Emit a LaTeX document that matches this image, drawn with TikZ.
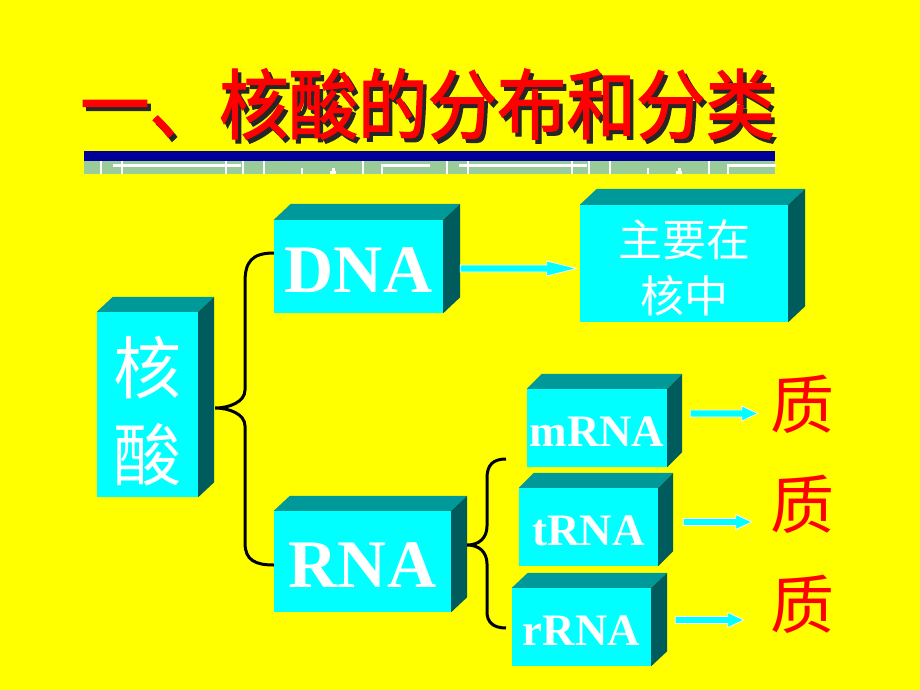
\documentclass[tikz,border=0pt]{standalone}
\usepackage{fontspec}
\usepackage{graphicx}
\setmainfont{Liberation Serif}
\newfontfamily\cjk{Noto Sans CJK SC}
\newfontfamily\cjkt{Noto Sans CJK SC}[FakeBold=1.6]
\usetikzlibrary{calc}
\definecolor{bg}{HTML}{FFFF00}
\definecolor{face}{HTML}{00FFFF}
\definecolor{topf}{HTML}{009999}
\definecolor{sidef}{HTML}{005C5C}
\definecolor{barblue}{HTML}{000099}
\definecolor{strip}{HTML}{99CC99}
\tikzset{
  block/.style={fill=face, inner sep=0pt},
  ltxt/.style={font=\bfseries\fontsize{68}{68}\selectfont, text=white, inner sep=0pt, yshift=-4pt},
  stxt/.style={font=\bfseries\fontsize{45}{45}\selectfont, text=white, inner sep=0pt, yshift=-3.5pt},
  ctxt/.style={font=\cjk\fontsize{68}{87}\selectfont, text=white, inner sep=0pt, align=center, yshift=-7pt},
  mtxt/.style={font=\cjk\fontsize{44}{56}\selectfont, text=white, inner sep=0pt, align=center, yshift=-4.5pt},
  zhi/.style={font=\cjk\fontsize{64}{64}\selectfont, text=red, inner sep=0pt},
  titletxt/.style={font=\cjkt\fontsize{69.5}{70}\selectfont, inner sep=0pt},
  fatarr/.style={fill=face, draw=white, line width=0.8pt},
  brace/.style={draw=black, line width=3pt}
}
\newcommand\fatarrow[3]{%
  \path[fatarr] let \p1=#1, \p2=#2 in
    (\x1,\y1+3.5pt) -- (\x2-#3,\y1+3.5pt) -- (\x2-#3,\y1+7.5pt) -- (\x2,\y1)
    -- (\x2-#3,\y1-7.5pt) -- (\x2-#3,\y1-3.5pt) -- (\x1,\y1-3.5pt) -- cycle;}
\newcommand\titlestr{\scalebox{1}[1.1]{一、核酸的分布和分类}}
\begin{document}
\begin{tikzpicture}[x=1pt,y=-1pt]
\useasboundingbox[fill=bg] (0,0) rectangle (920,690);

% title with drop shadow (one text node)
\node[titletxt] (title) at (427.5,106)
  {\rlap{\hspace{3.5pt}\raisebox{-4pt}{\color{black!85}\titlestr}}\color{red}\titlestr};

% bar
\fill[barblue] (84,151) rectangle (775,161);
\fill[strip] (84,161) rectangle (775,174);
\foreach \b in {101,447} {
  \fill[white] (\b+12,164) rectangle (\b+140,167);
  \fill[white] (\b+281,164) rectangle (\b+329,167);
  \foreach \v in {0,21,125,142,163,262} {
    \fill[white] (\b+\v-0.7,161) rectangle (\b+\v+0.7,174);
  }
  \fill[white] (\b+200.3,168) rectangle (\b+201.7,174);
  \fill[white] (\b+280.3,164) rectangle (\b+281.7,174);
  \fill[white] (\b+229,170.5) rectangle (\b+235,174);
  \fill[white] (\b+230.5,167.5) rectangle (\b+233.5,170.5);
}

% blocks
\node[block, minimum width=101pt, minimum height=185pt,
      label={[ctxt]center:{核\\酸}}] (hs) at (147.5,404.5) {};
\node[block, minimum width=169pt, minimum height=93pt,
      label={[ltxt]center:DNA}] (dna) at (358.5,266.5) {};
\node[block, minimum width=208pt, minimum height=117pt,
      label={[mtxt]center:{主要在\\核中}}] (main) at (684,263.5) {};
\node[block, minimum width=177pt, minimum height=101pt,
      label={[ltxt]center:RNA}] (rna) at (362.5,561.5) {};
\node[block, minimum width=140pt, minimum height=78pt,
      label={[stxt]center:mRNA}] (mrna) at (597,428) {};
\node[block, minimum width=139pt, minimum height=78pt,
      label={[stxt]center:tRNA}] (trna) at (588.5,527) {};
\node[block, minimum width=139pt, minimum height=78pt,
      label={[stxt]center:rRNA}] (rrna) at (581.5,627) {};

\foreach \n/\dx/\dy in {hs/16/15, dna/17/16, main/17/16, rna/16/15, mrna/15/15, trna/15/15, rrna/16/15} {
  \fill[topf] (\n.north west) -- (\n.north east) -- ++(\dx,-\dy)
     -- ($(\n.north west)+(\dx,-\dy)$) -- cycle;
  \fill[sidef] (\n.north east) -- ++(\dx,-\dy)
     -- ($(\n.south east)+(\dx,-\dy)$) -- (\n.south east) -- cycle;
}

% red characters
\node[zhi] (zhi1) at (802,404) {质};
\node[zhi] (zhi2) at (802,504) {质};
\node[zhi] (zhi3) at (802,604) {质};

% arrows
\fatarrow{($(dna.east)+(17,2)$)}{($(main.west)+(-3,0)$)}{30pt}
\fatarrow{($(mrna.east)+(23,-14.5)$)}{($(zhi1.west)+(-12,0)$)}{16pt}
\fatarrow{($(trna.east)+(25,-5)$)}{($(zhi2.west)+(-18,0)$)}{16pt}
\fatarrow{($(rrna.east)+(24,-7)$)}{($(zhi3.west)+(-26,0)$)}{16pt}

% brace 1
\coordinate (b1m) at ($(hs.east)+(17,3.5)$);
\coordinate (b1t) at ($(dna.west)+(0,-13.5)$);
\coordinate (b1b) at ($(rna.west)+(0,3.5)$);
\draw[brace] (b1t) .. controls ++(-22,0) and (245,262) .. (245,282) -- (245,390)
  .. controls (245,402) and (229,408) .. (b1m)
  .. controls (229,408) and (245,414) .. (245,426) -- (245,543)
  .. controls (245,560) and (255,565) .. (b1b);

% brace 2
\coordinate (b2m) at ($(rna.east)+(16,-16.5)$);
\coordinate (b2t) at (506,459);
\coordinate (b2b) at (506,628);
\draw[brace] (b2t) .. controls (493,459) and (487,465) .. (487,478) -- (487,526)
  .. controls (487,538) and (479,545) .. (b2m)
  .. controls (479,545) and (487,552) .. (487,564) -- (487,612)
  .. controls (487,622) and (493,628) .. (b2b);
\end{tikzpicture}
\end{document}
